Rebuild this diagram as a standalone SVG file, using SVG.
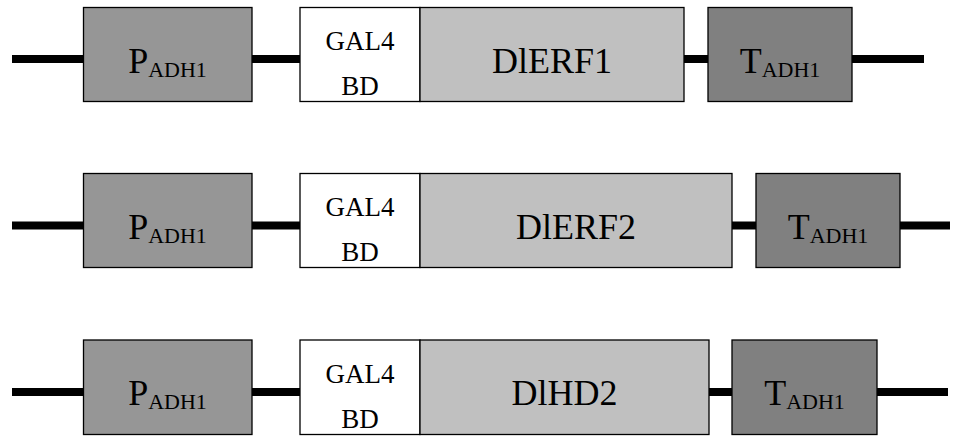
<svg xmlns="http://www.w3.org/2000/svg" width="963" height="436" viewBox="0 0 963 436">
<style>
text{font-family:"Liberation Serif","Times New Roman",serif;fill:#000;text-anchor:middle}
.big{font-size:36px}
.sub{font-size:22px}
.gal{font-size:27px}
.wire{stroke:#000;stroke-width:8;fill:none}
.box{stroke:#000;stroke-width:1.3}
.p{fill:#969696}
.g{fill:#fff}
.d{fill:#c0c0c0}
.t{fill:#808080}
</style>
<rect width="963" height="436" fill="#fff"/>
<g id="connectors">
<path class="wire" d="M12 59H84M252 59H300M684 59H708M852 59H924"/>
<path class="wire" d="M12 225.5H84M252 225.5H300M732 225.5H756M900 225.5H950"/>
<path class="wire" d="M12 392H84M252 392H300M709 392H732M877 392H948"/>
</g>
<g id="row1">
<g id="p1"><rect class="box p" x="83.5" y="7.5" width="168.5" height="94"/><text class="big" x="167.5" y="72.5">P<tspan class="sub" dy="4">ADH1</tspan></text></g>
<g id="gal1"><rect class="box g" x="300" y="7.5" width="120" height="94"/><text class="gal" x="360" y="50">GAL4</text><text class="gal" x="360" y="95">BD</text></g>
<g id="erf1"><rect class="box d" x="420" y="7.5" width="264" height="94"/><text class="big" x="552" y="72.5">DlERF1</text></g>
<g id="t1"><rect class="box t" x="708" y="7.5" width="144" height="94"/><text class="big" x="780" y="72.5">T<tspan class="sub" dy="4">ADH1</tspan></text></g>
</g>
<g id="row2">
<g id="p2"><rect class="box p" x="83.5" y="173.5" width="168.5" height="94"/><text class="big" x="167.5" y="238.5">P<tspan class="sub" dy="4">ADH1</tspan></text></g>
<g id="gal2"><rect class="box g" x="300" y="173.5" width="120" height="94"/><text class="gal" x="360" y="216">GAL4</text><text class="gal" x="360" y="261">BD</text></g>
<g id="erf2"><rect class="box d" x="420" y="173.5" width="312" height="94"/><text class="big" x="576" y="238.5">DlERF2</text></g>
<g id="t2"><rect class="box t" x="756" y="173.5" width="144" height="94"/><text class="big" x="828" y="238.5">T<tspan class="sub" dy="4">ADH1</tspan></text></g>
</g>
<g id="row3">
<g id="p3"><rect class="box p" x="83.5" y="340" width="168.5" height="94.5"/><text class="big" x="167.5" y="405">P<tspan class="sub" dy="4">ADH1</tspan></text></g>
<g id="gal3"><rect class="box g" x="300" y="340" width="120" height="94.5"/><text class="gal" x="360" y="382.5">GAL4</text><text class="gal" x="360" y="427.5">BD</text></g>
<g id="hd2"><rect class="box d" x="420" y="340" width="289" height="94.5"/><text class="big" x="564.5" y="405">DlHD2</text></g>
<g id="t3"><rect class="box t" x="732" y="340" width="145" height="94.5"/><text class="big" x="804.5" y="405">T<tspan class="sub" dy="4">ADH1</tspan></text></g>
</g>
</svg>
